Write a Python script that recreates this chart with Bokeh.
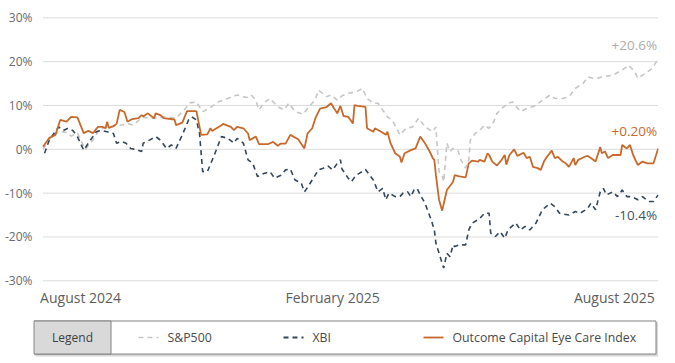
from bokeh.plotting import figure
from bokeh.models import Range1d, FixedTicker, PrintfTickFormatter
from bokeh.core.properties import value
from bokeh.embed import file_html
from bokeh.resources import INLINE

FONT = "Open Sans"

# x values: days since 2024-08-01 ; y values: % change
series_names = ["S&P500", "XBI", "Outcome Capital Eye Care Index"]

sp_days = [0, 5, 8, 13, 16, 18, 22, 27, 32, 36, 41, 47, 54, 58, 63, 71, 77, 85, 91, 94, 98,
           102, 106, 112, 118, 124, 130, 133, 136, 138, 141, 145, 150, 154, 157, 161, 166, 170,
           174, 176, 181, 184, 188, 191, 195, 200, 204, 207, 211, 214, 217, 220, 223, 226, 228,
           232, 236, 240, 244, 249, 251, 252, 253, 255, 256, 258, 260, 262, 265, 267, 270, 272,
           273, 276, 279, 282, 285, 288, 290, 293, 297, 300, 302, 305, 309, 315, 319, 324, 327,
           332, 336, 340, 345, 348, 353, 357, 364, 370, 374, 378, 380, 385, 389, 393]
sp_vals = [0.0, 2.8, 3.7, 4.0, 3.7, 3.0, 3.7, 0.0, 2.1, 4.6, 5.1, 5.3, 5.9, 5.5, 7.3, 7.1, 7.4,
           7.1, 9.3, 10.6, 10.8, 8.6, 9.3, 10.8, 11.6, 12.4, 11.8, 12.4, 11.2, 9.0, 10.5, 11.6,
           9.7, 9.0, 10.5, 8.6, 8.0, 9.7, 11.4, 13.5, 12.0, 12.4, 11.2, 12.2, 12.8, 13.1, 13.9,
           11.6, 10.5, 10.5, 9.0, 7.4, 6.7, 4.8, 3.3, 4.8, 5.1, 7.1, 5.1, 4.0, 5.1, -0.2, -5.1,
           -5.9, -7.4, 1.4, -0.5, 0.2, -0.2, -2.4, -4.3, -2.4, 2.1, 3.6, 4.3, 5.5, 4.8, 6.3, 8.2,
           9.3, 10.5, 10.8, 9.9, 8.6, 9.3, 10.0, 11.2, 12.4, 11.6, 11.6, 12.0, 13.9, 15.0, 16.5,
           16.1, 16.5, 16.9, 18.1, 19.2, 17.7, 16.2, 17.4, 18.4, 20.6]

xbi_days = [1, 4, 7, 10, 13, 16, 19, 22, 26, 29, 34, 37, 41, 45, 47, 50, 53, 56, 59, 63, 64, 68,
            72, 75, 79, 82, 85, 86, 89, 93, 95, 98, 100, 102, 105, 109, 114, 118, 122, 124, 128,
            131, 134, 137, 141, 145, 148, 152, 155, 158, 161, 165, 167, 169, 172, 176, 179, 182,
            185, 188, 190, 191, 195, 197, 200, 202, 206, 211, 214, 217, 219, 221, 225, 228, 230,
            233, 235, 237, 239, 241, 244, 248, 250, 251, 253, 255, 256, 258, 260, 262, 263, 266,
            270, 272, 274, 279, 282, 285, 286, 289, 292, 295, 297, 302, 305, 308, 311, 315, 319,
            324, 327, 330, 336, 340, 343, 348, 350, 353, 356, 358, 360, 364, 367, 370, 373, 376,
            380, 383, 387, 390, 393]
xbi_vals = [-0.9, 2.1, 3.6, 5.1, 4.3, 4.8, 4.3, 2.9, -0.2, 1.4, 4.0, 4.3, 4.0, 3.6, 1.4, 1.8, 1.4,
            0.2, 0.0, -0.5, 1.4, 2.1, 2.9, 2.1, 0.2, 1.0, 0.2, 1.0, 3.3, 6.7, 7.4, 6.7, 3.6, -5.1,
            -5.1, -1.7, 2.9, 2.5, 1.4, 2.5, 1.4, -2.4, -3.2, -6.2, -5.5, -5.1, -6.6, -5.9, -4.7,
            -4.5, -7.0, -7.7, -9.7, -8.7, -7.0, -4.7, -4.3, -3.8, -4.7, -3.2, -2.4, -4.5, -6.6,
            -7.4, -5.9, -5.5, -4.6, -7.0, -9.7, -8.9, -11.5, -10.0, -10.8, -10.8, -10.0, -9.7,
            -10.8, -9.3, -8.9, -10.4, -12.3, -16.1, -18.4, -21.4, -23.7, -26.0, -27.1, -23.7,
            -24.5, -21.8, -22.2, -21.8, -21.8, -18.4, -16.9, -15.8, -14.6, -14.6, -19.1, -19.9,
            -18.8, -20.3, -18.4, -16.8, -18.4, -17.6, -18.4, -16.8, -13.8, -12.3, -13.1, -14.6,
            -15.0, -14.2, -14.6, -13.5, -12.3, -13.8, -9.7, -8.9, -10.4, -9.7, -10.8, -9.3,
            -10.8, -10.8, -11.5, -10.8, -11.9, -11.9, -10.4]

eye_days = [0, 4, 8, 11, 15, 18, 22, 26, 29, 32, 35, 38, 40, 41, 42, 45, 47, 49, 52, 54, 57, 61,
            63, 64, 67, 71, 72, 75, 77, 84, 85, 89, 92, 98, 101, 105, 107, 108, 114, 115, 120, 122,
            124, 128, 131, 132, 136, 138, 144, 147, 150, 152, 155, 158, 163, 167, 169, 172, 174,
            177, 181, 184, 186, 188, 190, 192, 195, 198, 199, 201, 206, 207, 211, 212, 216, 219,
            220, 222, 225, 228, 229, 231, 235, 238, 241, 244, 247, 249, 250, 251, 253, 255, 258,
            262, 263, 266, 270, 272, 274, 278, 279, 282, 284, 285, 287, 290, 293, 295, 296, 298,
            301, 303, 307, 309, 311, 313, 316, 318, 320, 322, 325, 327, 329, 332, 334, 336, 339,
            340, 342, 346, 348, 350, 353, 356, 357, 359, 361, 364, 369, 370, 373, 375, 377, 380,
            383, 386, 390, 393]
eye_vals = [0.6, 2.6, 3.3, 6.7, 6.3, 7.4, 7.3, 3.7, 4.2, 3.7, 5.1, 5.1, 4.8, 6.3, 4.9, 5.3, 5.8,
            9.0, 8.5, 6.3, 6.9, 7.1, 7.8, 7.5, 8.2, 7.1, 8.2, 7.8, 7.1, 6.8, 5.5, 6.1, 8.7, 8.7,
            3.3, 3.4, 4.8, 4.2, 5.5, 5.8, 5.1, 4.4, 5.1, 4.8, 3.6, 2.1, 2.9, 1.2, 1.2, 1.7, 0.8,
            1.3, 1.3, 3.3, 2.3, 0.2, 3.6, 4.8, 7.1, 9.3, 9.6, 10.5, 9.3, 8.2, 9.9, 7.6, 7.4, 5.9,
            10.1, 9.9, 9.7, 4.8, 4.0, 4.8, 4.0, 3.3, 4.0, 1.4, -0.9, -1.7, -3.0, -0.9, -0.2, 0.2,
            2.9, 1.4, -0.5, -2.0, -2.4, -5.9, -11.5, -14.0, -9.3, -7.4, -5.9, -6.2, -6.4, -3.2,
            -2.6, -2.8, -2.4, -2.8, -0.9, -1.3, -2.8, -3.7, -2.4, -1.3, -3.5, -1.3, 0.0, -1.5,
            -0.8, -2.0, -1.7, -4.0, -4.3, -4.7, -2.8, -1.7, -0.3, -2.0, -1.7, -2.8, -3.2, -4.0,
            -2.0, -3.6, -2.4, -1.7, -1.5, -2.0, -2.8, 0.5, -0.9, -0.5, -2.0, -1.3, -1.3, 1.0, 0.2,
            1.0, -1.3, -3.6, -2.8, -3.2, -3.2, 0.2]

end_labels = ["+20.6%", "-10.4%", "+0.20%"]
y_ticks = [-30, -20, -10, 0, 10, 20, 30]
x_tick_days = [24, 185, 365]
x_tick_labels = ["August 2024", "February 2025", "August 2025"]

C_SP = "#c6c6c6"
C_XBI = "#34475a"
C_EYE = "#c8692b"

# One figure; its frame spans chart + legend strip. The "px" ranges map 1:1 to page pixels
# (Bokeh's page template has no body margin).
p = figure(width=675, height=363, output_backend="svg", toolbar_location=None,
           x_range=Range1d(-6.07, 393.2), y_range=Range1d(-48.87, 30.3),
           x_axis_location=None, y_axis_location="left",
           min_border_left=33, min_border_right=17, min_border_top=16, min_border_bottom=0)
p.extra_x_ranges = {"px": Range1d(33, 658)}
p.extra_y_ranges = {"px": Range1d(363, 16)}
p.outline_line_color = None
p.background_fill_color = "white"
p.border_fill_color = "white"
p.grid.visible = False

p.yaxis.ticker = FixedTicker(ticks=y_ticks)
p.yaxis.formatter = PrintfTickFormatter(format="%d%%")
p.yaxis.axis_line_color = None
p.yaxis.major_tick_line_color = None
p.yaxis.minor_tick_line_color = None
p.yaxis.major_tick_in = 0
p.yaxis.major_tick_out = 0
p.yaxis.major_label_standoff = 1
p.yaxis.major_label_text_font = FONT
p.yaxis.major_label_text_font_size = "12px"
p.yaxis.major_label_text_color = "#6a6a6a"

# horizontal gridlines across the data span
p.segment(x0=[sp_days[0]] * len(y_ticks), x1=[sp_days[-1]] * len(y_ticks),
          y0=y_ticks, y1=y_ticks, line_color="#dcdcdc", line_width=1)

p.line(sp_days, sp_vals, line_color=C_SP, line_width=1.6, line_dash="5 4")
p.line(xbi_days, xbi_vals, line_color=C_XBI, line_width=1.6, line_dash="5 4")
p.line(eye_days, eye_vals, line_color=C_EYE, line_width=1.8)

# x tick labels under the -30% gridline
p.text(x=x_tick_days, y=[y_ticks[0]] * len(x_tick_days), text=x_tick_labels,
       y_offset=17, text_align="center", text_baseline="middle",
       text_font=value(FONT), text_font_size="14px", text_color="#5e5e5e")

label_specs = [(sp_days[-1], sp_vals[-1], end_labels[0], "#acacac", -14),
               (xbi_days[-1], xbi_vals[-1], end_labels[1], "#3f5263", 20),
               (eye_days[-1], eye_vals[-1], end_labels[2], C_EYE, -17)]
for x, y, t, c, off in label_specs:
    p.text(x=[x], y=[y], text=[t], text_align="right", text_baseline="middle",
           x_offset=-1, y_offset=off, text_font=value(FONT), text_font_size="13.5px",
           text_color=c)

# legend strip (page-pixel coordinates)
kw = dict(x_range_name="px", y_range_name="px")
p.quad(left=[35], right=[657.5], top=[322], bottom=[356], fill_color="#bdbdbd",
       fill_alpha=0.6, line_color=None, **kw)
p.quad(left=[33.5], right=[655.5], top=[320.5], bottom=[353.5], fill_color="white",
       line_color="#808080", line_width=1, **kw)
p.quad(left=[33.5], right=[110.5], top=[320.5], bottom=[353.5], fill_color="#d9d9d9",
       line_color="#808080", line_width=1, **kw)
p.text(x=[72], y=[337], text=["Legend"], text_align="center", text_baseline="middle",
       text_font=value(FONT), text_font_size="12px", text_color="#404040", **kw)

item_specs = [(138, C_SP, "5 4", 1.4), (283, C_XBI, "5 4", 1.8), (423, C_EYE, "solid", 1.8)]
for (lx, c, dash, w), name in zip(item_specs, series_names):
    p.line([lx, lx + 20], [337, 337], line_color=c, line_dash=dash, line_width=w, **kw)
    p.text(x=[lx + 29], y=[337], text=[name], text_align="left", text_baseline="middle",
           text_font=value(FONT), text_font_size="12.3px", text_color="#4a4a4a", **kw)

open("out.html", "w").write(file_html(p, INLINE))
